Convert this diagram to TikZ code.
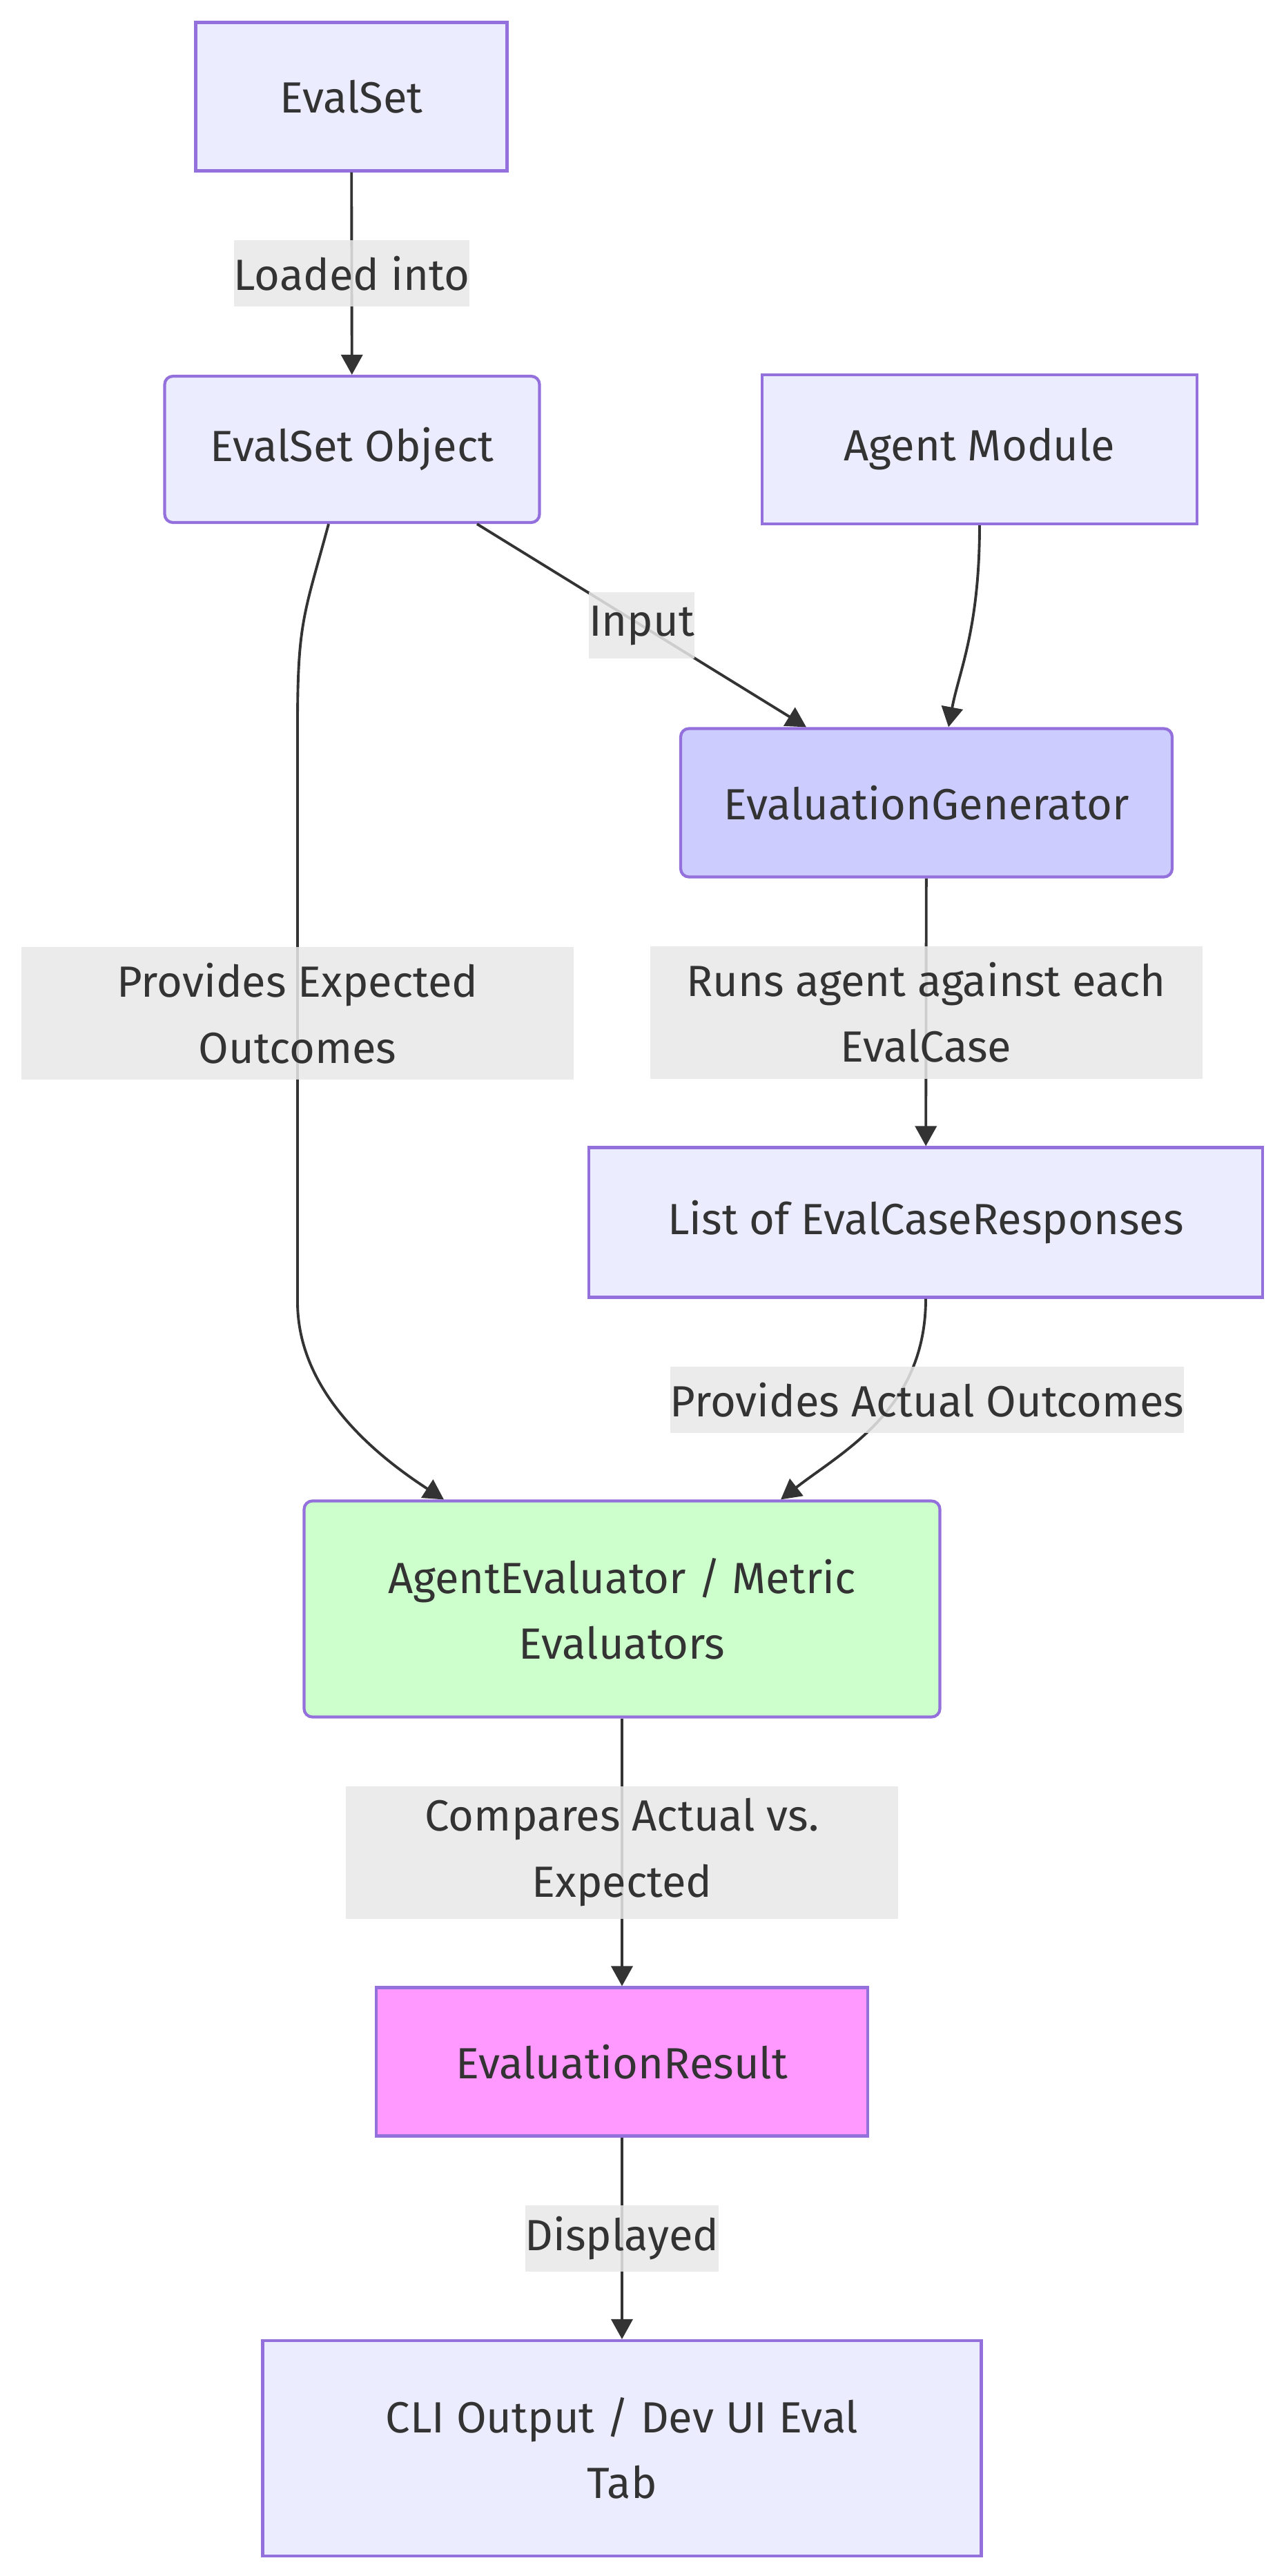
\documentclass[tikz,border=0pt]{standalone}
\usepackage{fontspec}
\setmainfont{Fira Sans}
\usetikzlibrary{arrows.meta, positioning, calc}

\definecolor{nodefill}{HTML}{ECECFF}
\definecolor{nodeline}{HTML}{9370DB}
\definecolor{genfill}{HTML}{CCCCFF}
\definecolor{evalfill}{HTML}{CCFFCC}
\definecolor{resfill}{HTML}{FF99FF}
\definecolor{labelbg}{HTML}{E8E8E8}
\definecolor{inkgrey}{HTML}{333333}

\tikzset{
  box/.style={draw=nodeline, fill=nodefill, line width=1.2pt, text=inkgrey, align=center, inner sep=0pt},
  roundbox/.style={box, rounded corners=0.12cm},
  edgelabel/.style={fill=labelbg, fill opacity=0.85, text opacity=1, text=inkgrey, inner sep=0pt, align=center},
  onelabel/.style={edgelabel, minimum height=0.96cm},
  twolabel/.style={edgelabel, minimum height=1.92cm, minimum width=8cm},
  link/.style={draw=inkgrey, line width=1.1pt, -{Triangle[length=0.29cm,width=0.31cm]}},
}

\begin{document}
\begin{tikzpicture}[font=\fontsize{18}{27.2}\selectfont]
    \useasboundingbox (0,0) rectangle (18.6,-37.32);

    % boxes
    \node[box, minimum width=4.51cm, minimum height=2.15cm] (evalset) at (5.09,-1.40) {EvalSet};
    \node[roundbox, minimum width=5.43cm, minimum height=2.12cm] (evalobj) at (5.10,-6.51) {EvalSet Object};
    \node[box, minimum width=6.30cm, minimum height=2.16cm] (agent) at (14.19,-6.51) {Agent Module};
    \node[roundbox, fill=genfill, minimum width=7.12cm, minimum height=2.15cm] (evalgen) at (13.42,-11.63) {EvaluationGenerator};
    \node[box, minimum width=9.76cm, minimum height=2.17cm] (responses) at (13.41,-17.71) {List of EvalCaseResponses};
    \node[roundbox, fill=evalfill, minimum width=9.21cm, minimum height=3.13cm] (evaluator) at (9.01,-23.31) {AgentEvaluator / Metric\\Evaluators};
    \node[box, fill=resfill, minimum width=7.12cm, minimum height=2.15cm] (result) at (9.01,-29.87) {EvaluationResult};
    \node[box, minimum width=10.41cm, minimum height=3.12cm] (cli) at (9.01,-35.47) {CLI Output / Dev UI Eval\\Tab};

    % connectors
    \draw[link] (evalset) -- node[onelabel] (loaded) {Loaded into} (evalobj);
    \draw[link] ([xshift=1.81cm]evalobj.south) -- node[onelabel] (input) {Input} ([xshift=-1.74cm]evalgen.north);
    \draw[link] (agent.south) .. controls +(0,-1.5) and +(0.15,0.8) .. ([xshift=0.32cm]evalgen.north);
    \draw[link] ([xshift=-0.34cm]evalobj.south) .. controls +(-0.35,-1.3) and +(0,1.5) .. (4.31,-10.50)
        -- node[twolabel] (expected) {Provides Expected\\Outcomes} (4.31,-18.86)
        .. controls +(0,-1.3) and +(-1.0,0.65) .. ([xshift=-2.58cm]evaluator.north);
    \draw[link] (evalgen) -- node[twolabel] (runs) {Runs agent against each\\EvalCase} (responses);
    \draw[link] (responses.south) .. controls +(0,-1.6) and +(0.9,0.7) .. ([xshift=2.30cm]evaluator.north)
        node[onelabel] (actual) at (13.43,-20.28) {Provides Actual Outcomes};
    \draw[link] (evaluator) -- node[twolabel] (compares) {Compares Actual vs.\\Expected} (result);
    \draw[link] (result) -- node[onelabel] (shown) {Displayed} (cli);
\end{tikzpicture}
\end{document}
